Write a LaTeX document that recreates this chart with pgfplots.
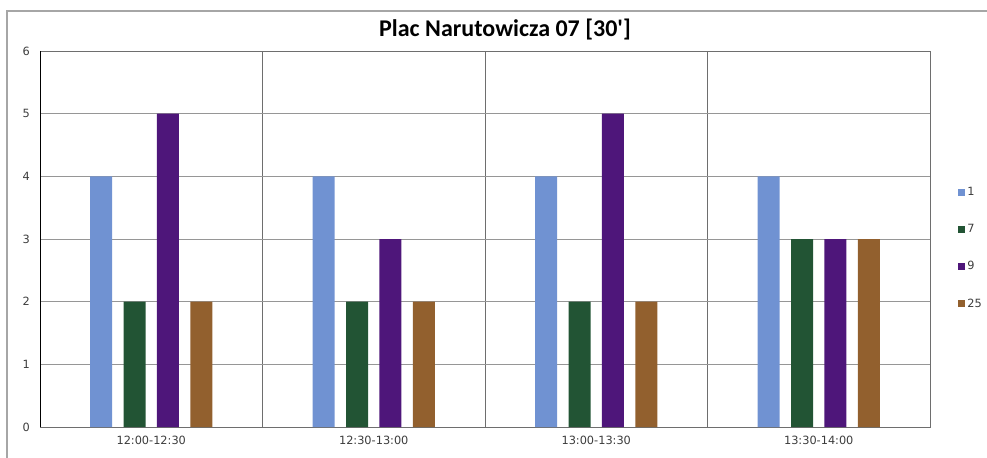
\documentclass[border=0pt]{standalone}
\usepackage{pgfplots}
\pgfplotsset{compat=1.18}
\usepackage{fontspec}
\setmainfont{DejaVu Sans}
\newfontfamily\titlefont{Carlito}
\definecolor{cOne}{RGB}{112,146,210}
\definecolor{cSeven}{RGB}{34,84,52}
\definecolor{cNine}{RGB}{78,22,122}
\definecolor{cTwentyFive}{RGB}{146,96,46}
\definecolor{gridgray}{RGB}{150,150,150}
\definecolor{vgray}{RGB}{110,110,110}
\definecolor{ticktext}{RGB}{60,60,60}
\begin{document}
\begin{tikzpicture}
\useasboundingbox (-30pt,-22.5pt) rectangle (710.25pt,320.25pt);
\draw[gray!70, line width=0.8pt] (-24.75pt,-30pt) -- (-24.75pt,312pt) -- (720pt,312pt);
\begin{axis}[
    name=main,
    at={(0,0)}, anchor=south west,
    scale only axis,
    width=667.5pt, height=282pt,
    ybar=8.6pt, bar width=16.5pt,
    xmin=-0.5, xmax=3.5,
    ymin=0, ymax=6,
    ytick={0,1,2,3,4,5,6},
    xtick={0,1,2,3},
    xticklabels={12:00-12:30,12:30-13:00,13:00-13:30,13:30-14:00},
    minor xtick={0.5,1.5,2.5},
    xminorgrids, ymajorgrids,
    major tick length=0pt, minor tick length=0pt,
    major grid style={gridgray, line width=0.7pt},
    minor grid style={vgray, line width=0.7pt},
    axis line style={vgray, line width=0.7pt},
    ticklabel style={font=\fontsize{8.5}{10}\selectfont, text=ticktext},
    yticklabel style={xshift=-4pt},
    xticklabel style={yshift=-3pt},
    /pgf/number format/assume math mode=true,
    legend style={at={(1.031,0.475)}, anchor=west, draw=none, fill=none,
        font=\fontsize{8.5}{10}\selectfont, text=ticktext,
        row sep=16pt, inner sep=0pt},
    legend cell align=left,
    legend image code/.code={\fill[#1] (0pt,-2.6pt) rectangle (5.2pt,2.6pt);},
]
\addplot[fill=cOne, draw=none] coordinates {(0,4) (1,4) (2,4) (3,4)};
\addplot[fill=cSeven, draw=none] coordinates {(0,2) (1,2) (2,2) (3,3)};
\addplot[fill=cNine, draw=none] coordinates {(0,5) (1,3) (2,5) (3,3)};
\addplot[fill=cTwentyFive, draw=none] coordinates {(0,2) (1,2) (2,2) (3,3)};
\legend{1,7,9,25}
\draw[black, line width=0.8pt] (rel axis cs:0,0) -- (rel axis cs:0,1);
\end{axis}
\node[anchor=center, inner sep=0pt] at (348.75pt,297.75pt)
    {\titlefont\bfseries\fontsize{18}{21}\selectfont Plac Narutowicza 07 [30']};
\end{tikzpicture}
\end{document}
